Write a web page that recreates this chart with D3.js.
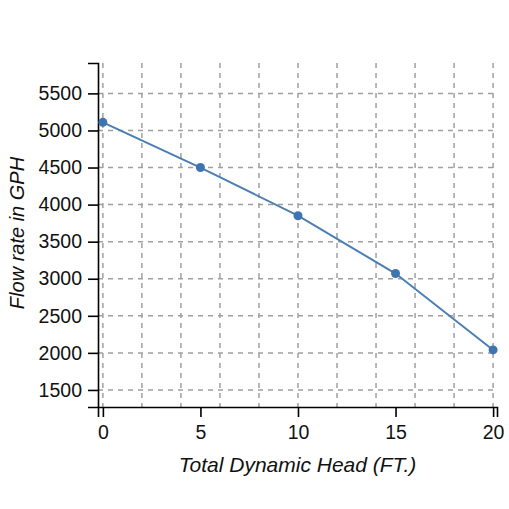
<!DOCTYPE html>
<html>
<head>
<meta charset="utf-8">
<script src="https://cdn.jsdelivr.net/npm/d3@7"></script>
<style>
  body { margin: 0; background: #fff; }
  text { font-family: "Liberation Sans", Arial, sans-serif; }
</style>
</head>
<body>
<div id="chart"></div>
<script>
// pump curve data
var headFt = [0, 5, 10, 15, 20];
var flowGph = [5110, 4500, 3850, 3070, 2040];
var xTicks = [0, 5, 10, 15, 20];
var xGrid = [0, 2, 4, 6, 8, 10, 12, 14, 16, 18, 20];
var yTicks = [1500, 2000, 2500, 3000, 3500, 4000, 4500, 5000, 5500];

var svgWidth = 509;
var svgHeight = 509;
var margin = { top: 63, right: 12, bottom: 102, left: 98 };
var width = svgWidth - margin.left - margin.right;
var height = svgHeight - margin.top - margin.bottom;

var svg = d3.select("#chart")
    .append("svg")
    .attr("width", svgWidth)
    .attr("height", svgHeight);

var chartGroup = svg.append("g")
    .attr("transform", `translate(${margin.left},${margin.top})`);

var xScale = d3.scaleLinear()
    .domain([-0.25, 20.2])
    .range([0, width]);

var yScale = d3.scaleLinear()
    .domain([1270, 5910])
    .range([height, 0]);

// grid lines
chartGroup.append("g")
    .selectAll("line")
    .data(xGrid)
    .enter()
    .append("line")
    .attr("x1", d => xScale(d))
    .attr("x2", d => xScale(d))
    .attr("y1", 0)
    .attr("y2", height)
    .attr("stroke", "#a0a0a0")
    .attr("stroke-width", 1.5)
    .attr("stroke-dasharray", "5,5");

chartGroup.append("g")
    .selectAll("line")
    .data(yTicks)
    .enter()
    .append("line")
    .attr("x1", 0)
    .attr("x2", width)
    .attr("y1", d => yScale(d))
    .attr("y2", d => yScale(d))
    .attr("stroke", "#a0a0a0")
    .attr("stroke-width", 1.5)
    .attr("stroke-dasharray", "5,5");

// axes
var bottomAxis = d3.axisBottom(xScale).tickValues(xTicks).tickSize(10).tickPadding(8).tickFormat(d3.format("d"));
var leftAxis = d3.axisLeft(yScale).tickValues(yTicks).tickSize(10).tickPadding(6).tickFormat(d3.format("d"));

var xAxis = chartGroup.append("g")
    .attr("transform", `translate(0,${height})`)
    .call(bottomAxis);

var yAxis = chartGroup.append("g")
    .call(leftAxis);

[xAxis, yAxis].forEach(function(ax) {
    ax.attr("font-size", null).attr("font-family", null);
    ax.selectAll("path, line").attr("stroke", "#000").attr("stroke-width", 1.6);
    ax.selectAll("text")
        .attr("fill", "#111")
        .style("font-size", "19.5px");
});

// line + points
var line = d3.line()
    .x((d, i) => xScale(headFt[i]))
    .y(d => yScale(d));

chartGroup.append("path")
    .datum(flowGph)
    .attr("d", line)
    .attr("fill", "none")
    .attr("stroke", "#4a7fb5")
    .attr("stroke-width", 2);

chartGroup.selectAll("circle")
    .data(flowGph)
    .enter()
    .append("circle")
    .attr("cx", (d, i) => xScale(headFt[i]))
    .attr("cy", d => yScale(d))
    .attr("r", 4.5)
    .attr("fill", "#3f75ae");

// axis titles
chartGroup.append("text")
    .attr("x", width / 2)
    .attr("y", height + 65)
    .attr("text-anchor", "middle")
    .style("font-size", "21px")
    .style("font-style", "italic")
    .attr("fill", "#111")
    .text("Total Dynamic Head (FT.)");

chartGroup.append("text")
    .attr("transform", "rotate(-90)")
    .attr("x", -height / 2 + 2)
    .attr("y", -margin.left + 24)
    .attr("text-anchor", "middle")
    .style("font-size", "20px")
    .style("font-style", "italic")
    .attr("fill", "#111")
    .text("Flow rate in GPH");
</script>
</body>
</html>
